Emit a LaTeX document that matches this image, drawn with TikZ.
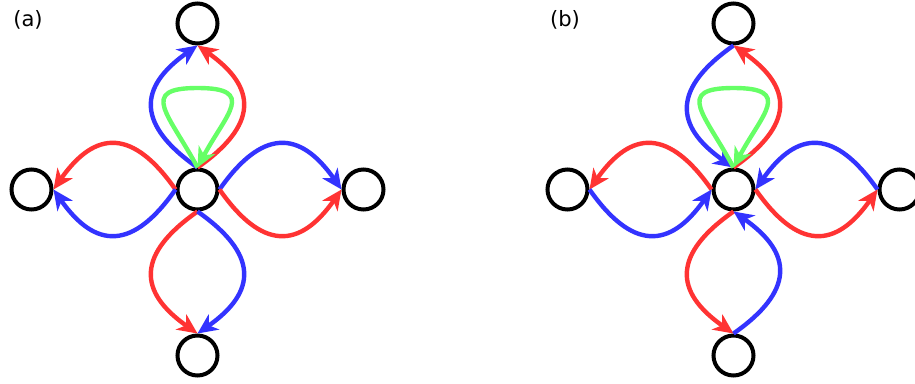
\documentclass[tikz,border=0pt]{standalone}
\usepackage{fontspec}
\setmainfont{DejaVu Sans}
\usetikzlibrary{arrows.meta}
\definecolor{edgeblue}{RGB}{51,51,255}
\definecolor{edgered}{RGB}{255,51,51}
\definecolor{loopgreen}{RGB}{102,255,102}

\begin{document}
\begin{tikzpicture}[x=0.025cm, y=0.025cm,
	state/.style = {draw, circle, line width=0.1cm, minimum size=1cm, inner sep=0pt},
	edge/.style = {line width=0.11cm, looseness=1.55},
	panel/.style = {font=\fontsize{15}{17}\selectfont},
	>={Stealth[length=0.5cm, width=0.46cm, inset=0.15cm]}]
	\useasboundingbox (0,0) rectangle (915,383);

	% (a): every edge leaves the middle state
	\node [panel] (tagA) at (28,363) {(a)};
	\node [state] (Ca) at (197.5,193.5) {};
	\node [state] (Ta) at (197.5,359.5) {};
	\node [state] (Ba) at (197.5,27.5) {};
	\node [state] (La) at (31.5,193.5) {};
	\node [state] (Ra) at (363.5,193.5) {};
	\coordinate (ga) at (197.5,295);
	\draw [edge, edgeblue, ->] (Ca.north) to [out=145, in=215] (Ta.south);
	\draw [edge, edgered, ->] (Ca.north) to [out=35, in=-35] (Ta.south);
	\draw [edge, edgered, ->] (Ca.west) to [out=125, in=55] (La.east);
	\draw [edge, edgeblue, ->] (Ca.west) to [out=235, in=-55] (La.east);
	\draw [edge, edgeblue, ->] (Ca.east) to [out=55, in=125] (Ra.west);
	\draw [edge, edgered, ->] (Ca.east) to [out=-55, in=235] (Ra.west);
	\draw [edge, edgered, ->] (Ca.south) to [out=215, in=145] (Ba.north);
	\draw [edge, edgeblue, ->] (Ca.south) to [out=-35, in=35] (Ba.north);
	\draw [edge, loopgreen, ->] (Ca.north) to [out=118, in=180, distance=1.5cm] (ga)
		to [out=0, in=62, distance=1.5cm] (Ca.north);

	% (b): blue edges turned round
	\node [panel] (tagB) at (565,363) {(b)};
	\node [state] (Cb) at (733.5,193.5) {};
	\node [state] (Tb) at (733.5,359.5) {};
	\node [state] (Bb) at (733.5,27.5) {};
	\node [state] (Lb) at (567.5,193.5) {};
	\node [state] (Rb) at (899.5,193.5) {};
	\coordinate (gb) at (733.5,295);
	\draw [edge, edgeblue, <-] (Cb.north) to [out=145, in=215] (Tb.south);
	\draw [edge, edgered, ->] (Cb.north) to [out=35, in=-35] (Tb.south);
	\draw [edge, edgered, ->] (Cb.west) to [out=125, in=55] (Lb.east);
	\draw [edge, edgeblue, <-] (Cb.west) to [out=235, in=-55] (Lb.east);
	\draw [edge, edgeblue, <-] (Cb.east) to [out=55, in=125] (Rb.west);
	\draw [edge, edgered, ->] (Cb.east) to [out=-55, in=235] (Rb.west);
	\draw [edge, edgered, ->] (Cb.south) to [out=215, in=145] (Bb.north);
	\draw [edge, edgeblue, <-] (Cb.south) to [out=-35, in=35] (Bb.north);
	\draw [edge, loopgreen, ->] (Cb.north) to [out=118, in=180, distance=1.5cm] (gb)
		to [out=0, in=62, distance=1.5cm] (Cb.north);
\end{tikzpicture}
\end{document}
